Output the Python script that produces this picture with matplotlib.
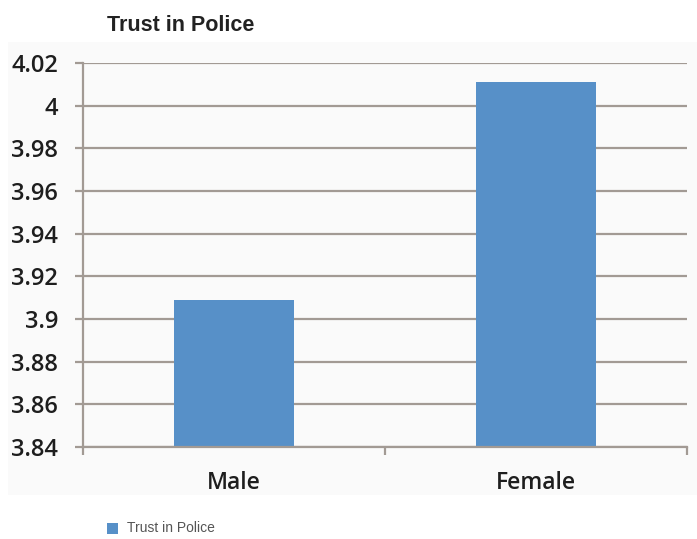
import matplotlib
matplotlib.use("Agg")
import matplotlib.pyplot as plt
from matplotlib.patches import Rectangle
import numpy as np

categories = ["Male", "Female"]
trust_values = [3.909, 4.011]
series_name = "Trust in Police"
y_ticks = [3.84, 3.86, 3.88, 3.90, 3.92, 3.94, 3.96, 3.98, 4.00, 4.02]
y_tick_labels = ["3.84", "3.86", "3.88", "3.9", "3.92", "3.94", "3.96", "3.98", "4", "4.02"]

BAR_COLOR = "#5790c8"
GRID_COLOR = "#a29a94"
TEXT_COLOR = "#1e1e1e"

fig = plt.figure(figsize=(6.97, 5.39), dpi=100)
fig.patch.set_facecolor("white")

# light chart panel behind the plot
fig.patches.append(Rectangle((8 / 697, 1 - 495 / 539), 689 / 697, 453 / 539,
                             transform=fig.transFigure, facecolor="#fafafa",
                             edgecolor="none", zorder=-5))

ax = fig.add_axes([83 / 697, 92 / 539, 604 / 697, 384 / 539])
ax.set_facecolor("none")
ax.set_zorder(2)

x = np.arange(len(categories))
ax.bar(x, trust_values, width=0.4, color=BAR_COLOR, zorder=3)

ax.set_xlim(-0.5, len(categories) - 0.5)
ax.set_ylim(3.84, 4.02)
ax.set_yticks(y_ticks)
ax.set_yticklabels(y_tick_labels)
ax.set_xticks(x)
ax.set_xticklabels(categories)
ax.set_xticks([-0.5, 0.5, 1.5], minor=True)

for side in ["top", "right"]:
    ax.spines[side].set_visible(False)
for side in ["left", "bottom"]:
    ax.spines[side].set_color(GRID_COLOR)
    ax.spines[side].set_linewidth(1.6)
    ax.spines[side].set_zorder(4)

ax.grid(axis="y", color=GRID_COLOR, linewidth=1.6, zorder=1)
ax.tick_params(axis="y", length=6, width=1.6, color=GRID_COLOR, pad=12,
               labelsize=17, labelcolor=TEXT_COLOR)
ax.tick_params(axis="x", which="major", length=0, pad=17,
               labelsize=16.5, labelcolor=TEXT_COLOR)
ax.tick_params(axis="x", which="minor", length=6, width=1.6, color=GRID_COLOR)
for lab in ax.get_yticklabels() + ax.get_xticklabels():
    lab.set_fontfamily("Open Sans")
    lab.set_fontweight("semibold")

fig.text(181 / 697, 1 - 31 / 539, series_name, ha="center", va="baseline",
         fontsize=15.5, fontweight="bold", fontfamily="Liberation Sans",
         color="#222222")

# legend entry below the panel
fig.patches.append(Rectangle((107 / 697, 1 - 534 / 539), 11 / 697, 11 / 539,
                             transform=fig.transFigure, facecolor=BAR_COLOR,
                             edgecolor="none"))
fig.text(127 / 697, 1 - 528 / 539, series_name, ha="left", va="center",
         fontsize=10, fontfamily="Liberation Sans", color="#555555")

fig.savefig("out.png", dpi=100, facecolor=fig.get_facecolor())
